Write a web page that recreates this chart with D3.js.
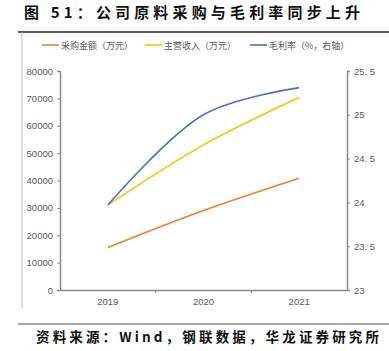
<!DOCTYPE html>
<html>
<head>
<meta charset="utf-8">
<script src="https://cdn.jsdelivr.net/npm/d3@7"></script>
<style>
  body { margin: 0; background: #fff; }
  svg { display: block; }
</style>
</head>
<body>
<script>
// data
var years = ['2019', '2020', '2021'];
var purchase = [15500, 29000, 40800];   // 采购金额（万元）
var revenue = [31000, 53000, 70300];    // 主营收入（万元）
var margin = [23.97, 25.0, 25.31];      // 毛利率（%，右轴）
var leftTicks = [0, 10000, 20000, 30000, 40000, 50000, 60000, 70000, 80000];
var rightTicks = [23, 23.5, 24, 24.5, 25, 25.5];
var rightTickLabels = ['23', '23. 5', '24', '24. 5', '25', '25. 5'];
var legendLabels = ['采购金额（万元）', '主营收入（万元）', '毛利率（%，右轴）'];

var svgWidth = 389, svgHeight = 351;
var plot = { left: 60, right: 347, top: 71, bottom: 290 };
var colors = ['#ED7D31', '#FFC000', '#4472C4'];
var grey = '#595959';
var cjk = '"Noto Sans CJK SC", sans-serif';

var svg = d3.select('body')
    .append('svg')
    .attr('width', svgWidth)
    .attr('height', svgHeight);

// title + frame
svg.append('text')
    .attr('x', 24)
    .attr('y', 18)
    .attr('textLength', 336)
    .attr('lengthAdjust', 'spacing')
    .style('font-family', cjk)
    .style('font-weight', 'bold')
    .style('font-size', '15px')
    .attr('fill', '#111')
    .text('图 51：公司原料采购与毛利率同步上升');

svg.append('line')
    .attr('x1', 18).attr('x2', 389)
    .attr('y1', 32).attr('y2', 32)
    .attr('stroke', '#222').attr('stroke-width', 1.5);

svg.append('line')
    .attr('x1', 22).attr('x2', 22)
    .attr('y1', 32).attr('y2', 308)
    .attr('stroke', '#bbb').attr('stroke-width', 1);

svg.append('line')
    .attr('x1', 18).attr('x2', 389)
    .attr('y1', 324).attr('y2', 324)
    .attr('stroke', '#888').attr('stroke-width', 1.5);

svg.append('text')
    .attr('x', 36)
    .attr('y', 342)
    .attr('textLength', 343)
    .attr('lengthAdjust', 'spacing')
    .style('font-family', cjk)
    .style('font-weight', 'bold')
    .style('font-size', '13.5px')
    .attr('fill', '#111')
    .text('资料来源：Wind，钢联数据，华龙证券研究所');

// scales
var xScale = d3.scaleBand()
    .domain(years)
    .range([plot.left, plot.right]);

var yLeft = d3.scaleLinear()
    .domain([0, 80000])
    .range([plot.bottom, plot.top]);

var yRight = d3.scaleLinear()
    .domain([23, 25.5])
    .range([plot.bottom, plot.top]);

var xMid = function (d) { return xScale(d) + xScale.bandwidth() / 2; };

// axes
var leftAxis = d3.axisLeft(yLeft).tickValues(leftTicks).tickSize(3).tickPadding(4).tickFormat(d3.format('d'));
var rightAxis = d3.axisRight(yRight).tickValues(rightTicks).tickSize(3).tickPadding(4)
    .tickFormat(function (d, i) { return rightTickLabels[i]; });

var gLeft = svg.append('g')
    .attr('transform', `translate(${ plot.left }, 0)`)
    .call(leftAxis);

var gRight = svg.append('g')
    .attr('transform', `translate(${ plot.right }, 0)`)
    .call(rightAxis);

var gX = svg.append('g')
    .attr('transform', `translate(0, ${ plot.bottom })`)
    .call(d3.axisBottom(xScale).tickSize(0).tickPadding(8));

// x ticks at band edges
gX.selectAll('.edge')
    .data(years.slice(1))
    .enter()
    .append('line')
    .attr('x1', function (d) { return xScale(d); })
    .attr('x2', function (d) { return xScale(d); })
    .attr('y1', 0).attr('y2', 3);

[gLeft, gRight, gX].forEach(function (g) {
    g.select('.domain').attr('stroke', '#888').attr('stroke-width', 1.5);
    g.selectAll('line').attr('stroke', '#888');
    g.selectAll('text')
        .attr('fill', grey)
        .style('font-family', '"Liberation Sans", Arial, sans-serif')
        .style('font-size', '9.5px');
});

// lines
var lineLeft = d3.line()
    .x(function (d, i) { return xMid(years[i]); })
    .y(function (d) { return yLeft(d); });

var lineRight = d3.line()
    .x(function (d, i) { return xMid(years[i]); })
    .y(function (d) { return yRight(d); })
    .curve(d3.curveCatmullRom.alpha(0.5));

var lineRevenue = d3.line()
    .x(function (d, i) { return xMid(years[i]); })
    .y(function (d) { return yLeft(d); })
    .curve(d3.curveCatmullRom.alpha(0.5));

svg.append('path').datum(purchase)
    .attr('d', lineRevenue)
    .attr('fill', 'none').attr('stroke', colors[0]).attr('stroke-width', 1.6);

svg.append('path').datum(revenue)
    .attr('d', lineRevenue)
    .attr('fill', 'none').attr('stroke', colors[1]).attr('stroke-width', 1.6);

svg.append('path').datum(margin)
    .attr('d', lineRight)
    .attr('fill', 'none').attr('stroke', colors[2]).attr('stroke-width', 1.6);

// legend
var legendX = [42, 145, 250];
var legend = svg.append('g')
    .selectAll('g')
    .data(legendLabels)
    .enter()
    .append('g')
    .attr('transform', function (d, i) { return `translate(${ legendX[i] }, 45)`; });

legend.append('line')
    .attr('x1', 0).attr('x2', 17)
    .attr('y1', 0).attr('y2', 0)
    .attr('stroke', function (d, i) { return colors[i]; })
    .attr('stroke-width', 1.6);

legend.append('text')
    .attr('x', 19)
    .attr('y', 3.5)
    .attr('fill', grey)
    .style('font-family', cjk)
    .style('font-size', '9px')
    .text(function (d) { return d; });
</script>
</body>
</html>
